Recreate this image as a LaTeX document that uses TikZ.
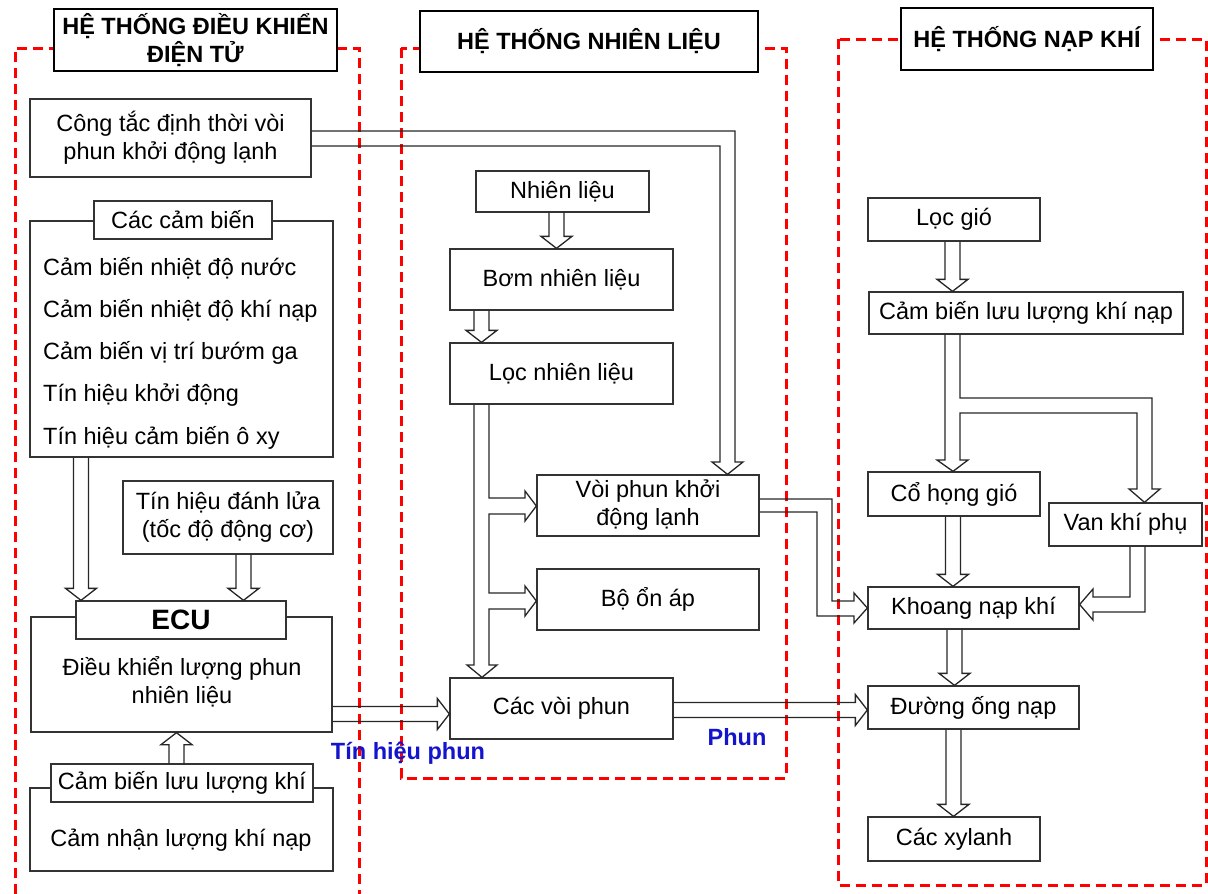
\documentclass[tikz,border=0pt]{standalone}
\usepackage{fontspec}
\setmainfont{Liberation Sans}
\usetikzlibrary{calc}

\definecolor{phunblue}{RGB}{20,20,205}

\tikzset{
  box/.style={draw=black!80, line width=1.3pt, fill=white, inner sep=0pt, align=center,
    font=\fontsize{23.5}{28}\selectfont},
  titlebox/.style={box, draw=black, line width=2.2pt, font=\bfseries\fontsize{23.5}{28}\selectfont},
  wh/.style 2 args={minimum width=#1pt, minimum height=#2pt},
  item/.style={anchor=west, inner sep=0pt, font=\fontsize{23.5}{28}\selectfont},
  flow/.style={draw=black!85, line width=1.3pt},
  zone/.style={draw=red, line width=3pt, dash pattern=on 10pt off 6pt},
  note/.style={text=phunblue, inner sep=0pt, font=\bfseries\fontsize{23.5}{28}\selectfont},
}

% hollow block arrows between nodes
\newcommand{\flowdown}[3]{% from, to, x of shaft centre
  \draw[flow] let \p1=(#1.south), \p2=(#2.north) in
    (#3pt-7.5pt,\y1) -- (#3pt-7.5pt,\y2+12pt) -- (#3pt-15.5pt,\y2+12pt) -- (#3pt,\y2)
    -- (#3pt+15.5pt,\y2+12pt) -- (#3pt+7.5pt,\y2+12pt) -- (#3pt+7.5pt,\y1);}
\newcommand{\flowup}[3]{% from, to, x of shaft centre
  \draw[flow] let \p1=(#1.north), \p2=(#2.south) in
    (#3pt-7.5pt,\y1) -- (#3pt-7.5pt,\y2-12pt) -- (#3pt-15.5pt,\y2-12pt) -- (#3pt,\y2)
    -- (#3pt+15.5pt,\y2-12pt) -- (#3pt+7.5pt,\y2-12pt) -- (#3pt+7.5pt,\y1);}
\newcommand{\flowright}[3]{% from, to, y of shaft centre
  \draw[flow] let \p1=(#1.east), \p2=(#2.west) in
    (\x1,-#3pt+7.5pt) -- (\x2-12pt,-#3pt+7.5pt) -- (\x2-12pt,-#3pt+15.5pt) -- (\x2,-#3pt)
    -- (\x2-12pt,-#3pt-15.5pt) -- (\x2-12pt,-#3pt-7.5pt) -- (\x1,-#3pt-7.5pt);}

\begin{document}
\begin{tikzpicture}[x=1pt, y=-1pt]
  \useasboundingbox (0,0) rectangle (1208,894);

  % three zones
  \draw[zone] (15,894) -- (15,48) -- (359,48) -- (359,894);
  \draw[zone] (401,48) rectangle (786,778);
  \draw[zone] (838,39) rectangle (1206,885);

  \node[titlebox, wh={283}{62}] (tdk) at (195.5,40) {HỆ THỐNG ĐIỀU KHIỂN\\ĐIỆN TỬ};
  \node[titlebox, wh={338}{61}] (tnl) at (589,41.5) {HỆ THỐNG NHIÊN LIỆU};
  \node[titlebox, wh={252}{62}] (tnk) at (1027,39) {HỆ THỐNG NẠP KHÍ};

  % dieu khien dien tu
  \node[box, wh={281}{78}] (ctac) at (170.5,138) {Công tắc định thời vòi\\phun khởi động lạnh};
  \node[box, wh={303}{236}] (cambien) at (181.5,339) {};
  \node[box, wh={178}{38}] (cblab) at (183,220) {Các cảm biến};
  \foreach \txt [count=\i from 0] in {Cảm biến nhiệt độ nước, Cảm biến nhiệt độ khí nạp,
      Cảm biến vị trí bướm ga, Tín hiệu khởi động, Tín hiệu cảm biến ô xy}
    \node[item] (cb\i) at (43,268+42.5*\i) {\txt};
  \node[box, wh={210}{73}] (tdl) at (228,517.5) {Tín hiệu đánh lửa\\(tốc độ động cơ)};
  \node[box, wh={301}{115}] (ecu) at (181.5,674.5) {};
  \node[box, wh={210}{38}, font=\bfseries\fontsize{28}{32}\selectfont] (eculab) at (181,620) {ECU};
  \node[item, anchor=center, align=center] (ecutxt) at (182,682) {Điều khiển lượng phun\\nhiên liệu};
  \node[box, wh={303}{83}] (camnhan) at (181.5,829.5) {};
  \node[box, wh={262}{38}] (cbkhi) at (182,783) {Cảm biến lưu lượng khí};
  \node[item, anchor=center] (camnhantxt) at (181,840) {Cảm nhận lượng khí nạp};

  % nhien lieu
  \node[box, wh={173}{41}] (nl) at (562.5,191.5) {Nhiên liệu};
  \node[box, wh={223}{61}] (bom) at (561.5,279.5) {Bơm nhiên liệu};
  \node[box, wh={223}{61}] (loc) at (561.5,373.5) {Lọc nhiên liệu};
  \node[box, wh={222}{61}] (vphkd) at (648,505.5) {Vòi phun khởi\\động lạnh};
  \node[box, wh={222}{61}] (onap) at (648,599.5) {Bộ ổn áp};
  \node[box, wh={223}{61}] (cvp) at (561.5,708.5) {Các vòi phun};

  % nap khi
  \node[box, wh={172}{43}] (locgio) at (954,219.5) {Lọc gió};
  \node[box, wh={314}{42}] (cbllkn) at (1026,313) {Cảm biến lưu lượng khí nạp};
  \node[box, wh={172}{44}] (chg) at (954,494) {Cổ họng gió};
  \node[box, wh={153}{43}] (vkp) at (1125.5,524.5) {Van khí phụ};
  \node[box, wh={211}{42}] (knk) at (973.5,608) {Khoang nạp khí};
  \node[box, wh={211}{43}] (don) at (973.5,707.5) {Đường ống nạp};
  \node[box, wh={172}{44}] (xl) at (954,839) {Các xylanh};

  \node[note] (tinhieu) at (408,753) {Tín hiệu phun};
  \node[note] (phun) at (737,737) {Phun};

  % straight arrows
  \flowdown{cambien}{eculab}{81}
  \flowdown{tdl}{eculab}{243.5}
  \flowup{cbkhi}{ecu}{176.5}
  \flowright{ecu}{cvp}{714}
  \flowdown{nl}{bom}{556.5}
  \flowdown{bom}{loc}{481.5}
  \flowright{cvp}{don}{710}
  \flowdown{locgio}{cbllkn}{952.5}
  \flowdown{chg}{knk}{953}
  \flowdown{knk}{don}{954.5}
  \flowdown{don}{xl}{953.5}

  % bent arrows
  \draw[flow] (ctac.east |- 0,131) -- (735,131) -- (735,462) -- (743,462)
    -- (vphkd.north -| 727.5,0) -- (712,462) -- (720,462) -- (720,146) -- (ctac.east |- 0,146);
  \draw[flow] (loc.south -| 474,0) -- (474,665) -- (467,665) -- (cvp.north -| 482,0) -- (497,665)
    -- (489,665) -- (489,609) -- (525,609) -- (525,616) -- (onap.west |- 0,601) -- (525,586)
    -- (525,593) -- (489,593) -- (489,514) -- (525,514) -- (525,521) -- (vphkd.west |- 0,506)
    -- (525,491) -- (525,498) -- (489,498) -- (loc.south -| 489,0);
  \draw[flow] (vphkd.east |- 0,499) -- (832,499) -- (832,601) -- (854,601) -- (854,593)
    -- (knk.west |- 0,608) -- (854,623) -- (854,616) -- (817,616) -- (817,512) -- (vphkd.east |- 0,512);
  \draw[flow] (cbllkn.south -| 945,0) -- (945,460) -- (937,460) -- (chg.north -| 953,0) -- (968,460)
    -- (960,460) -- (960,413) -- (1137,413) -- (1137,489) -- (1129,489) -- (vkp.north -| 1144.5,0)
    -- (1160,489) -- (1152,489) -- (1152,398) -- (960,398) -- (cbllkn.south -| 960,0);
  \draw[flow] (vkp.south -| 1130,0) -- (1130,597) -- (1093,597) -- (1093,589) -- (knk.east |- 0,604.5)
    -- (1093,620) -- (1093,612) -- (1145,612) -- (vkp.south -| 1145,0);
\end{tikzpicture}
\end{document}
